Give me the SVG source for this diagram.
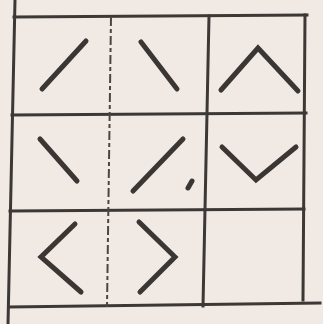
<svg xmlns="http://www.w3.org/2000/svg" width="323" height="324" viewBox="0 0 323 324">
<style>
.g{stroke:#3b3836;stroke-width:3;fill:none;stroke-linecap:square}
.d{stroke:#4a4644;stroke-width:2;fill:none;stroke-dasharray:9 3 4 3}
.s{stroke:#3a3634;stroke-width:5;fill:none;stroke-linecap:round;stroke-linejoin:miter}
</style>
<rect width="323" height="324" fill="#f1e9e4"/>
<g id="grid">
<line class="g" x1="15" y1="0" x2="8" y2="324"/>
<line class="g" x1="14" y1="17" x2="307" y2="15"/>
<line class="g" x1="12" y1="115" x2="306" y2="113"/>
<line class="g" x1="10" y1="211" x2="304" y2="209"/>
<line class="g" x1="9" y1="307" x2="320" y2="303"/>
<line class="d" x1="111" y1="17" x2="107" y2="307"/>
<line class="g" x1="209" y1="16" x2="203" y2="306"/>
<line class="g" x1="305" y1="15" x2="303" y2="300"/>
</g>
<g id="r1c1"><line class="s" x1="42" y1="89" x2="86" y2="41"/></g>
<g id="r1c2"><line class="s" x1="141" y1="42" x2="177" y2="89"/></g>
<g id="r1c3"><polyline class="s" points="221,90 258,48 298,91"/></g>
<g id="r2c1"><line class="s" x1="40" y1="139" x2="77" y2="181"/></g>
<g id="r2c2"><line class="s" x1="183" y1="139" x2="133" y2="191"/><line class="s" stroke-width="3" x1="192" y1="181" x2="188" y2="188"/></g>
<g id="r2c3"><polyline class="s" points="222,147 256,180 296,147"/></g>
<g id="r3c1"><polyline class="s" points="75,224 41,257 81,292"/></g>
<g id="r3c2"><polyline class="s" points="139,222 175,257 140,292"/></g>
</svg>
